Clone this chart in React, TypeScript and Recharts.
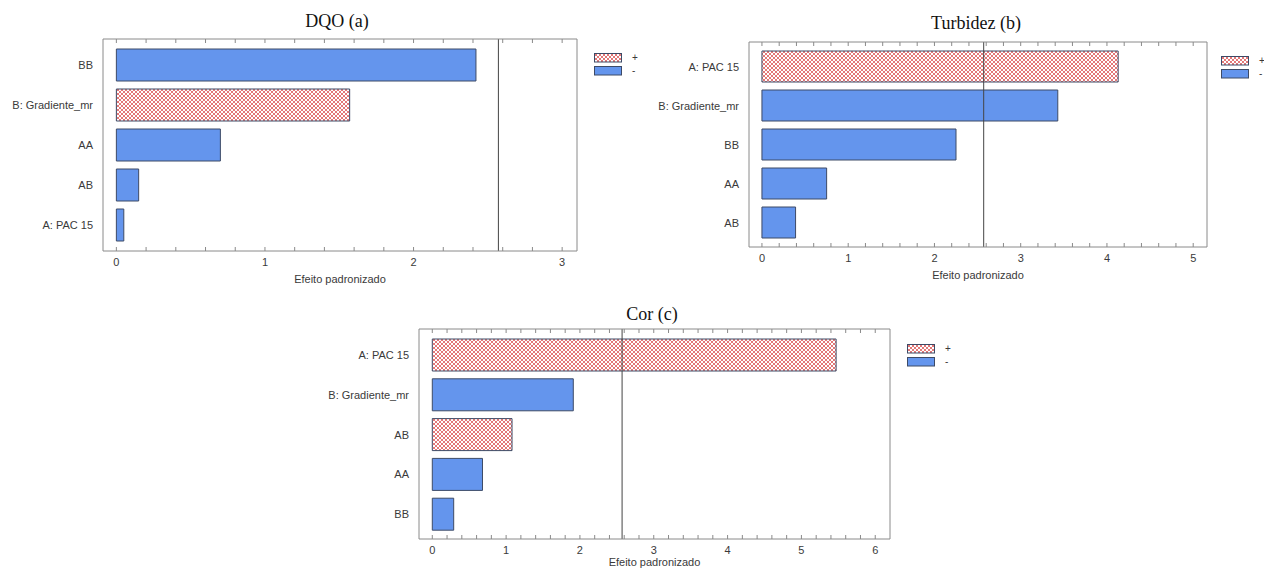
import React from 'react';
import { BarChart, Bar, XAxis, YAxis, Cell, ReferenceLine } from 'recharts';

// Efeitos padronizados (Pareto) para cada resposta
const dqoCategories = ['BB', 'B: Gradiente_mr', 'AA', 'AB', 'A: PAC 15'];
const dqoValues = [2.42, 1.57, 0.7, 0.15, 0.05];
const dqoSigns = ['-', '+', '-', '-', '-'];

const turbCategories = ['A: PAC 15', 'B: Gradiente_mr', 'BB', 'AA', 'AB'];
const turbValues = [4.13, 3.43, 2.25, 0.75, 0.39];
const turbSigns = ['+', '-', '-', '-', '-'];

const corCategories = ['A: PAC 15', 'B: Gradiente_mr', 'AB', 'AA', 'BB'];
const corValues = [5.47, 1.91, 1.08, 0.68, 0.29];
const corSigns = ['+', '-', '+', '-', '-'];

// valor critico t (linha vertical)
const T_CRIT = 2.571;

const ticksA = [0, 0.2, 0.4, 0.6, 0.8, 1, 1.2, 1.4, 1.6, 1.8, 2, 2.2, 2.4, 2.6, 2.8, 3];
const ticksB = [0, 0.2, 0.4, 0.6, 0.8, 1, 1.2, 1.4, 1.6, 1.8, 2, 2.2, 2.4, 2.6, 2.8, 3, 3.2, 3.4, 3.6, 3.8, 4, 4.2, 4.4, 4.6, 4.8, 5];
const ticksC = [0, 0.2, 0.4, 0.6, 0.8, 1, 1.2, 1.4, 1.6, 1.8, 2, 2.2, 2.4, 2.6, 2.8, 3, 3.2, 3.4, 3.6, 3.8, 4, 4.2, 4.4, 4.6, 4.8, 5, 5.2, 5.4, 5.6, 5.8, 6];

const legendLabels = ['+', '-'];

const BLUE = '#6495ed';
const EDGE = '#3d4a66';
const FRAME = '#8a8a8a';
const TEXT = '#3a3a3a';
const SANS = '"Liberation Sans", Arial, sans-serif';
const SERIF = '"Liberation Serif", "Times New Roman", serif';

const Hatch = ({ id }: { id: string }) => (
  <pattern id={id} width={4} height={4} patternUnits="userSpaceOnUse">
    <rect width={4} height={4} fill="#fff" />
    <path d="M0,0L4,4M4,0L0,4" stroke="#dc5555" strokeWidth={0.8} />
  </pattern>
);

const Legend = ({ left, top, id }: { left: number; top: number; id: string }) => (
  <svg style={{ position: 'absolute', left, top }} width={46} height={26}>
    <defs>
      <Hatch id={id} />
    </defs>
    {legendLabels.map((lab, i) => (
      <g key={lab}>
        <rect
          x={0.5}
          y={0.5 + i * 13}
          width={27}
          height={8.5}
          fill={lab === '+' ? `url(#${id})` : BLUE}
          stroke={EDGE}
          strokeWidth={1}
        />
        <text x={38} y={8 + i * 13} fontSize={10} fontFamily={SANS} fill={TEXT}>
          {lab}
        </text>
      </g>
    ))}
  </svg>
);

const CategoryTick = ({ x, y, payload }: any) => (
  <text x={x} y={y} dy={4} textAnchor="end" fontSize={11} fontFamily={SANS} fill={TEXT}>
    {payload.value}
  </text>
);

// marcas internas (em cima e em baixo do quadro) + rótulo nos inteiros
const makeValueTick = (plotTop: number, plotBottom: number) => ({ x, payload }: any) => (
  <g>
    <line x1={x} x2={x} y1={plotTop} y2={plotTop + 4} stroke={FRAME} strokeWidth={1} />
    <line x1={x} x2={x} y1={plotBottom} y2={plotBottom - 4} stroke={FRAME} strokeWidth={1} />
    {Number.isInteger(payload.value) && (
      <text x={x} y={plotBottom + 15} textAnchor="middle" fontSize={11} fontFamily={SANS} fill={TEXT}>
        {payload.value}
      </text>
    )}
  </g>
);

interface PanelProps {
  id: string;
  title: string;
  categories: string[];
  values: number[];
  signs: string[];
  ticks: number[];
  domain: [number, number];
  box: { left: number; top: number; width: number; height: number };
  margin: { top: number; right: number; bottom: number; left: number };
  pad: { top: number; bottom: number };
  barSize: number;
  labelOffset: number;
  titleX: number;
  titleY: number;
  legend: { left: number; top: number };
}

const X_AXIS_H = 36;

const Panel = (p: PanelProps) => {
  const data = p.categories.map((name, i) => ({ name, value: p.values[i], sign: p.signs[i] }));
  const hatchId = `hatch-${p.id}`;
  const plotTop = p.margin.top + 1;
  const plotBottom = p.box.height - p.margin.bottom - X_AXIS_H;
  const ValueTick = makeValueTick(plotTop, plotBottom);
  return (
    <div style={{ position: 'absolute', left: p.box.left, top: p.box.top, width: p.box.width, height: p.box.height }}>
      <div
        style={{
          position: 'absolute',
          left: p.titleX - 100,
          top: p.titleY,
          width: 200,
          textAlign: 'center',
          fontFamily: SERIF,
          fontSize: 18,
          lineHeight: '18px',
          color: '#111',
        }}
      >
        {p.title}
      </div>
      <BarChart width={p.box.width} height={p.box.height} data={data} layout="vertical" margin={p.margin}>
        <defs>
          <Hatch id={hatchId} />
        </defs>
        <XAxis
          xAxisId="top"
          orientation="top"
          type="number"
          domain={p.domain}
          allowDataOverflow
          height={1}
          tickLine={false}
          tick={false}
          stroke={FRAME}
        />
        <XAxis
          type="number"
          domain={p.domain}
          ticks={p.ticks}
          allowDataOverflow
          height={X_AXIS_H}
          tickLine={false}
          stroke={FRAME}
          interval={0}
          tick={ValueTick}
          label={{ value: 'Efeito padronizado', position: 'insideBottom', offset: p.labelOffset, fill: TEXT, fontSize: 11, fontFamily: SANS }}
        />
        <YAxis
          type="category"
          dataKey="name"
          width={100}
          tickLine={false}
          tickSize={0}
          tickMargin={10}
          interval={0}
          padding={p.pad}
          stroke={FRAME}
          tick={<CategoryTick />}
        />
        <ReferenceLine x={p.domain[1]} stroke={FRAME} />
        <ReferenceLine x={T_CRIT} stroke="#444" />
        <Bar dataKey="value" barSize={p.barSize} stroke={EDGE} strokeWidth={1} isAnimationActive={false}>
          {data.map((d, i) => (
            <Cell key={`cell-${i}`} fill={d.sign === '+' ? `url(#${hatchId})` : BLUE} />
          ))}
        </Bar>
      </BarChart>
      <Legend left={p.legend.left} top={p.legend.top} id={`leg-${p.id}`} />
    </div>
  );
};

export default function App() {
  return (
    <div style={{ position: 'absolute', left: 0, top: 0, width: 1264, height: 568, overflow: 'hidden', background: '#fff' }}>
      <Panel
        id="a"
        title="DQO (a)"
        categories={dqoCategories}
        values={dqoValues}
        signs={dqoSigns}
        ticks={ticksA}
        domain={[-0.09, 3.1]}
        box={{ left: 0, top: 0, width: 640, height: 290 }}
        margin={{ top: 38, right: 63, bottom: 3, left: 3 }}
        pad={{ top: 6, bottom: 6 }}
        barSize={32}
        labelOffset={4}
        titleX={337}
        titleY={12}
        legend={{ left: 594, top: 53 }}
      />
      <Panel
        id="b"
        title="Turbidez (b)"
        categories={turbCategories}
        values={turbValues}
        signs={turbSigns}
        ticks={ticksB}
        domain={[-0.15, 5.16]}
        box={{ left: 640, top: 0, width: 624, height: 290 }}
        margin={{ top: 41, right: 57, bottom: 7, left: 9 }}
        pad={{ top: 5, bottom: 5 }}
        barSize={31}
        labelOffset={4}
        titleX={336}
        titleY={14}
        legend={{ left: 581, top: 56 }}
      />
      <Panel
        id="c"
        title="Cor (c)"
        categories={corCategories}
        values={corValues}
        signs={corSigns}
        ticks={ticksC}
        domain={[-0.18, 6.2]}
        box={{ left: 300, top: 290, width: 700, height: 290 }}
        margin={{ top: 38, right: 110, bottom: 5, left: 19 }}
        pad={{ top: 6, bottom: 5 }}
        barSize={32}
        labelOffset={9}
        titleX={352}
        titleY={15}
        legend={{ left: 607, top: 54 }}
      />
    </div>
  );
}
